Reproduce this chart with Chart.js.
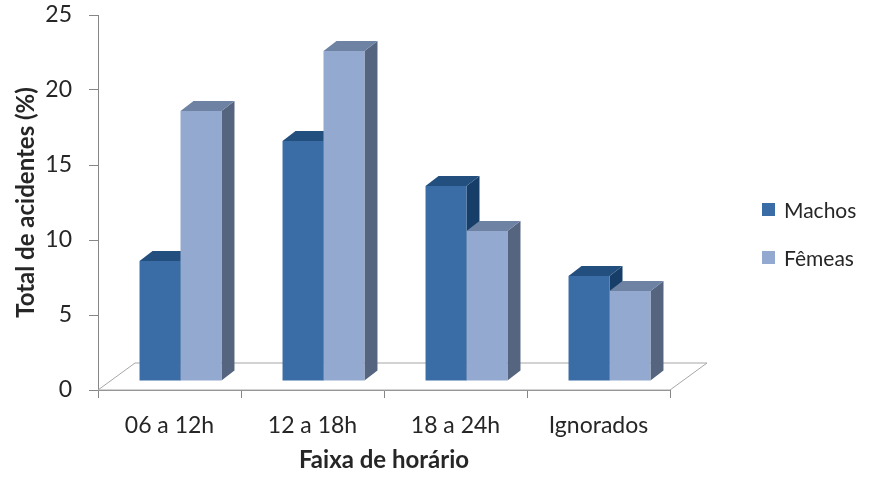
<!DOCTYPE html>
<html>
<head>
<meta charset="utf-8">
<script src="https://cdn.jsdelivr.net/npm/chart.js@4.4.1/dist/chart.umd.min.js"></script>
<style>
  html, body { margin: 0; padding: 0; background: #fff; }
  #wrap { width: 870px; height: 479px; position: relative; }
</style>
</head>
<body>
<div id="wrap"><canvas id="chart"></canvas></div>
<script>
// Acidentes por faixa de horário — colunas 3D (estilo Excel)

const categories = ["06 a 12h", "12 a 18h", "18 a 24h", "Ignorados"];
const machos = [8, 16, 13, 7];
const femeas = [18, 22, 10, 6];
const yTicks = [0, 5, 10, 15, 20, 25];

const FONT = "Lato, 'Open Sans', sans-serif";
const TEXT = "#262626";
const AXIS = "#868686";

const COLORS = {
  machos: { front: "#3A6DA6", top: "#234F7F", side: "#173E68" },
  femeas: { front: "#93A9CF", top: "#6E82A3", side: "#556580" },
};

// décalage du plan des barres et profondeur des barres / du sol
const SHIFT = { x: 11, y: -9 };
const DEPTH = { x: 13, y: -10 };
const FLOOR = { x: 37, y: -27 };

function poly(ctx, pts, fill, stroke) {
  ctx.beginPath();
  ctx.moveTo(pts[0][0], pts[0][1]);
  for (let i = 1; i < pts.length; i++) ctx.lineTo(pts[i][0], pts[i][1]);
  ctx.closePath();
  if (fill) { ctx.fillStyle = fill; ctx.fill(); }
  if (stroke) { ctx.strokeStyle = stroke; ctx.lineWidth = 1; ctx.stroke(); }
}

const bars3d = {
  id: "bars3d",
  beforeDatasetsDraw(chart) {
    const { ctx, chartArea: a } = chart;
    // sol
    ctx.save();
    poly(ctx, [
      [a.left, a.bottom], [a.right, a.bottom],
      [a.right + FLOOR.x, a.bottom + FLOOR.y], [a.left + FLOOR.x, a.bottom + FLOOR.y],
    ], "#fff", "#A6A6A6");
    ctx.restore();

    ctx.save();
    ctx.translate(SHIFT.x, SHIFT.y);
    chart.data.datasets.forEach((ds, i) => {
      const meta = chart.getDatasetMeta(i);
      const col = ds.faces;
      meta.data.forEach((el) => {
        const { x, y, base, width } = el.getProps(["x", "y", "base", "width"], true);
        const l = x - width / 2, r = x + width / 2;
        poly(ctx, [[r, y], [r + DEPTH.x, y + DEPTH.y], [r + DEPTH.x, base + DEPTH.y], [r, base]], col.side);
        poly(ctx, [[l, y], [r, y], [r + DEPTH.x, y + DEPTH.y], [l + DEPTH.x, y + DEPTH.y]], col.top);
      });
    });
    // les faces avant sont dessinées par Chart.js dans ce même repère
  },
  afterDatasetsDraw(chart) {
    chart.ctx.restore();
  },
};

const legendBox = {
  id: "legendBox",
  afterDraw(chart) {
    const ctx = chart.ctx;
    ctx.save();
    ctx.font = "21px " + FONT;
    ctx.textBaseline = "middle";
    const rows = [
      { label: chart.data.datasets[0].label, color: COLORS.machos.front, y: 210 },
      { label: chart.data.datasets[1].label, color: COLORS.femeas.front, y: 258 },
    ];
    rows.forEach((r) => {
      ctx.fillStyle = r.color;
      ctx.fillRect(762, r.y - 7, 13, 13);
      ctx.fillStyle = TEXT;
      ctx.fillText(r.label, 784, r.y + 1);
    });
    ctx.restore();
  },
};

new Chart(document.getElementById("chart"), {
  type: "bar",
  data: {
    labels: categories,
    datasets: [
      { label: "Machos", data: machos, backgroundColor: COLORS.machos.front, faces: COLORS.machos, clip: false },
      { label: "Fêmeas", data: femeas, backgroundColor: COLORS.femeas.front, faces: COLORS.femeas, clip: false },
    ],
  },
  options: {
    responsive: true,
    maintainAspectRatio: false,
    animation: false,
    events: [],
    layout: { padding: { top: 15, right: 200, left: 0, bottom: 0 } },
    datasets: { bar: { categoryPercentage: 0.573, barPercentage: 1.0, borderWidth: 0 } },
    plugins: { legend: { display: false }, tooltip: { enabled: false } },
    scales: {
      x: {
        grid: { display: true, drawOnChartArea: false, offset: true, tickLength: 8, color: AXIS },
        border: { display: true, color: AXIS },
        ticks: { color: TEXT, font: { family: FONT, size: 23 }, padding: 14 },
        title: { display: true, text: "Faixa de horário", color: TEXT, font: { family: FONT, size: 24, weight: "bold" }, padding: { top: 4 } },
        afterFit(scale) { scale.height = 89; },
      },
      y: {
        min: 0,
        max: 25,
        afterBuildTicks(scale) { scale.ticks = yTicks.map((v) => ({ value: v })); },
        grid: { display: true, drawOnChartArea: false, tickLength: 9, color: AXIS },
        border: { display: true, color: AXIS },
        ticks: { color: TEXT, font: { family: FONT, size: 23 }, padding: 17 },
        title: { display: true, text: "Total de acidentes (%)", color: TEXT, font: { family: FONT, size: 24, weight: "bold" }, padding: { top: 12 } },
        afterFit(scale) {
          scale.width = 98;
          // pas de marge supplémentaire pour le libellé du haut
          scale.paddingTop = 12;
          scale.paddingBottom = 0;
        },
      },
    },
  },
  plugins: [bars3d, legendBox],
});
</script>
</body>
</html>
